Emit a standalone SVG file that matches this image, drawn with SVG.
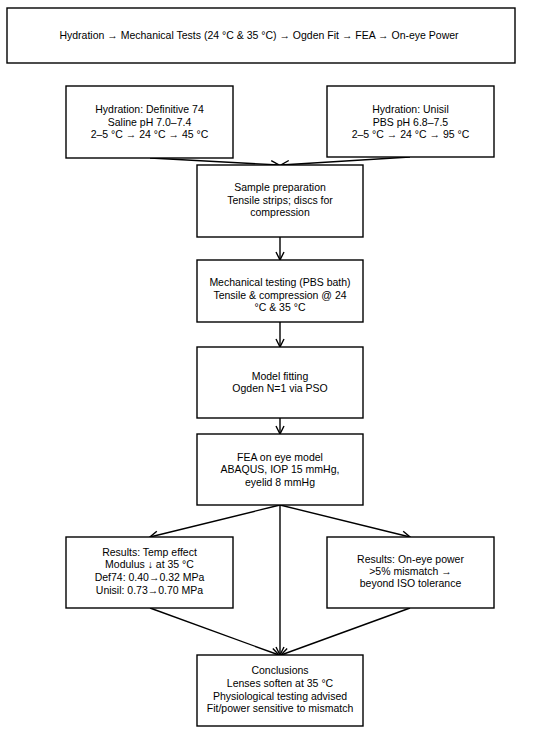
<svg xmlns="http://www.w3.org/2000/svg" width="550" height="732" viewBox="0 0 550 732">
<defs>
<marker id="ah" markerUnits="userSpaceOnUse" markerWidth="12" markerHeight="12" viewBox="-10 -6 12 12" refX="0" refY="0" orient="auto">
<path d="M-8,-4 L0,0 L-8,4" fill="none" stroke="#000" stroke-width="1.4"/>
</marker>
</defs>
<style>
.box{fill:#fff;stroke:#000;stroke-width:1.4}
.t{font-family:"Liberation Sans",Arial,sans-serif;font-size:10.5px;fill:#000;text-anchor:middle}
.c{fill:none;stroke:#000;stroke-width:1.4;marker-end:url(#ah)}
</style>
<rect width="550" height="732" fill="#fff"/>
<g id="connectors">
<line class="c" x1="150" y1="158" x2="279" y2="165"/>
<line class="c" x1="410" y1="157" x2="281" y2="165"/>
<line class="c" x1="280" y1="237" x2="280" y2="260"/>
<line class="c" x1="280" y1="322" x2="280" y2="347"/>
<line class="c" x1="280" y1="418" x2="280" y2="434"/>
<line class="c" x1="280" y1="505" x2="150" y2="537"/>
<line class="c" x1="280" y1="505" x2="410" y2="537"/>
<line class="c" x1="280" y1="505" x2="280" y2="655"/>
<line class="c" x1="150" y1="608" x2="279" y2="655"/>
<line class="c" x1="410" y1="608" x2="281" y2="655"/>
</g>
<g id="title">
<rect class="box" x="7" y="8" width="508" height="55"/>
<text class="t" x="259" y="39">Hydration → Mechanical Tests (24 °C &amp; 35 °C) → Ogden Fit → FEA → On-eye Power</text>
</g>
<g id="hydration-def74">
<rect class="box" x="66" y="86" width="167" height="72"/>
<text class="t" x="149.5" y="113">Hydration: Definitive 74</text>
<text class="t" x="149.5" y="126">Saline pH 7.0–7.4</text>
<text class="t" x="149.5" y="138">2–5 °C → 24 °C → 45 °C</text>
</g>
<g id="hydration-unisil">
<rect class="box" x="327" y="86" width="167" height="71"/>
<text class="t" x="410.5" y="113">Hydration: Unisil</text>
<text class="t" x="410.5" y="126">PBS pH 6.8–7.5</text>
<text class="t" x="410.5" y="138">2–5 °C → 24 °C → 95 °C</text>
</g>
<g id="sample-prep">
<rect class="box" x="197" y="165" width="166" height="72"/>
<text class="t" x="280" y="191">Sample preparation</text>
<text class="t" x="280" y="204">Tensile strips; discs for</text>
<text class="t" x="280" y="216">compression</text>
</g>
<g id="mech-testing">
<rect class="box" x="197" y="260" width="166" height="62"/>
<text class="t" x="280" y="286">Mechanical testing (PBS bath)</text>
<text class="t" x="280" y="299">Tensile &amp; compression @ 24</text>
<text class="t" x="280" y="311">°C &amp; 35 °C</text>
</g>
<g id="model-fitting">
<rect class="box" x="197" y="347" width="166" height="71"/>
<text class="t" x="280" y="380">Model fitting</text>
<text class="t" x="280" y="392">Ogden N=1 via PSO</text>
</g>
<g id="fea">
<rect class="box" x="197" y="434" width="166" height="71"/>
<text class="t" x="280" y="461">FEA on eye model</text>
<text class="t" x="280" y="473">ABAQUS, IOP 15 mmHg,</text>
<text class="t" x="280" y="486">eyelid 8 mmHg</text>
</g>
<g id="results-temp">
<rect class="box" x="66" y="537" width="167" height="71"/>
<text class="t" x="149.5" y="556">Results: Temp effect</text>
<text class="t" x="149.5" y="568">Modulus ↓ at 35 °C</text>
<text class="t" x="149.5" y="581">Def74: 0.40→0.32 MPa</text>
<text class="t" x="149.5" y="594">Unisil: 0.73→0.70 MPa</text>
</g>
<g id="results-power">
<rect class="box" x="327" y="537" width="167" height="71"/>
<text class="t" x="410.5" y="563">Results: On-eye power</text>
<text class="t" x="410.5" y="575">&gt;5% mismatch →</text>
<text class="t" x="410.5" y="587">beyond ISO tolerance</text>
</g>
<g id="conclusions">
<rect class="box" x="197" y="655" width="166" height="71"/>
<text class="t" x="280" y="674">Conclusions</text>
<text class="t" x="280" y="687">Lenses soften at 35 °C</text>
<text class="t" x="280" y="700">Physiological testing advised</text>
<text class="t" x="280" y="712">Fit/power sensitive to mismatch</text>
</g>
</svg>
